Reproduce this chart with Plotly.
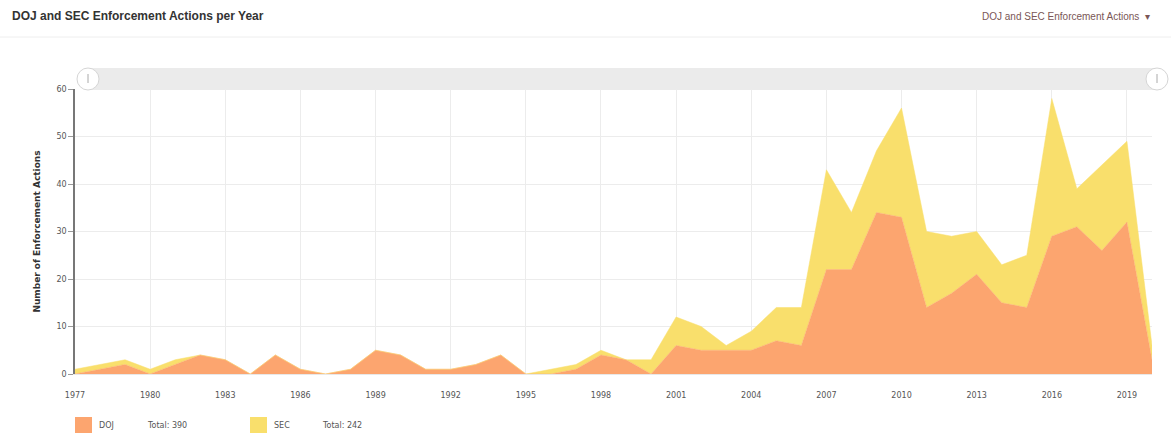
import plotly.graph_objects as go

years = list(range(1977, 2021))
doj = [0, 1, 2, 0, 2, 4, 3, 0, 4, 1, 0, 1, 5, 4, 1, 1, 2, 4, 0, 0, 1, 4, 3, 0,
       6, 5, 5, 5, 7, 6, 22, 22, 34, 33, 14, 17, 21, 15, 14, 29, 31, 26, 32, 3]
sec = [1, 1, 1, 1, 1, 0, 0, 0, 0, 0, 0, 0, 0, 0, 0, 0, 0, 0, 0, 1, 1, 1, 0, 3,
       6, 5, 1, 4, 7, 8, 21, 12, 13, 23, 16, 12, 9, 8, 11, 29, 8, 18, 17, 3]
x_ticks = list(range(1977, 2020, 3))
y_ticks = [0, 10, 20, 30, 40, 50, 60]
series_names = ["DOJ", "SEC"]
totals = [sum(doj), sum(sec)]

c_doj = "#FCA56F"
c_sec = "#F9DF6C"

fig = go.Figure()
fig.add_trace(go.Scatter(x=years, y=doj, name="DOJ", stackgroup="one", mode="lines",
                         line=dict(width=0.5, color=c_doj), fillcolor=c_doj))
fig.add_trace(go.Scatter(x=years, y=sec, name="SEC", stackgroup="one", mode="lines",
                         line=dict(width=0.5, color=c_sec), fillcolor=c_sec))

fig.update_layout(
    width=1171, height=439,
    margin=dict(l=75, r=19, t=89, b=65),
    paper_bgcolor="white", plot_bgcolor="white",
    showlegend=False,
    font=dict(family="DejaVu Sans", size=9, color="#555"),
    xaxis=dict(range=[1977, 2020], tickvals=x_ticks, ticktext=[str(v) for v in x_ticks],
               showgrid=True, gridcolor="#ececec", gridwidth=1, zeroline=False,
               showline=True, linecolor="#e8e8e8", ticks="", ticklen=0,
               tickfont=dict(size=8, color="#555"), ticklabelstandoff=13),
    yaxis=dict(range=[0, 60], tickvals=y_ticks, showgrid=True, gridcolor="#ececec",
               zeroline=False, showline=True, linecolor="#777", linewidth=1.5,
               ticks="outside", ticklen=5, tickcolor="#999",
               tickfont=dict(size=8, color="#555"),
               title=dict(text="<b>Number of Enforcement Actions</b>",
                          font=dict(size=9, color="#333", family="DejaVu Sans"), standoff=14)),
)

px = lambda v: (v - 75) / 1077
py = lambda v: (374 - v) / 285

# header
fig.add_annotation(xref="paper", yref="paper", x=px(10), y=py(16),
                   xanchor="left", yanchor="middle", showarrow=False,
                   text="<b>DOJ and SEC Enforcement Actions per Year</b>",
                   font=dict(family="Liberation Sans", size=12, color="#333"))
fig.add_annotation(xref="paper", yref="paper", x=px(1152), y=py(16),
                   xanchor="right", yanchor="middle", showarrow=False,
                   text="DOJ and SEC Enforcement Actions  ▾",
                   font=dict(family="Liberation Sans", size=10, color="#7a5656"))
fig.add_shape(type="line", xref="paper", yref="paper",
              x0=px(0), x1=px(1171), y0=py(37), y1=py(37),
              line=dict(color="#eeeeee", width=1))

# scrollbar
fig.add_shape(type="rect", xref="paper", yref="paper", x0=px(88), x1=px(1157),
              y0=py(90), y1=py(68), fillcolor="#ebebeb", line=dict(width=0), layer="below")
for cx in (88, 1157):
    fig.add_shape(type="circle", xref="paper", yref="paper", x0=px(cx-11), x1=px(cx+11),
                  y0=py(90), y1=py(68), fillcolor="white", line=dict(color="#d5d5d5", width=1))
    fig.add_shape(type="line", xref="paper", yref="paper", x0=px(cx), x1=px(cx),
                  y0=py(83), y1=py(74), line=dict(color="#aaa", width=1))

# legend
leg = [(75, c_doj, series_names[0], totals[0]), (250, c_sec, series_names[1], totals[1])]
for x0, col, nm, tot in leg:
    fig.add_shape(type="rect", xref="paper", yref="paper", x0=px(x0), x1=px(x0+17),
                  y0=py(433), y1=py(417), fillcolor=col, line=dict(width=0))
    fig.add_annotation(xref="paper", yref="paper", x=px(x0+22), y=py(425), xanchor="left",
                       yanchor="middle", showarrow=False, text=nm,
                       font=dict(size=8, color="#555"))
    fig.add_annotation(xref="paper", yref="paper", x=px(x0+70), y=py(425), xanchor="left",
                       yanchor="middle", showarrow=False, text=f"Total: {tot}",
                       font=dict(size=8, color="#555"))

fig.write_html("out.html")
